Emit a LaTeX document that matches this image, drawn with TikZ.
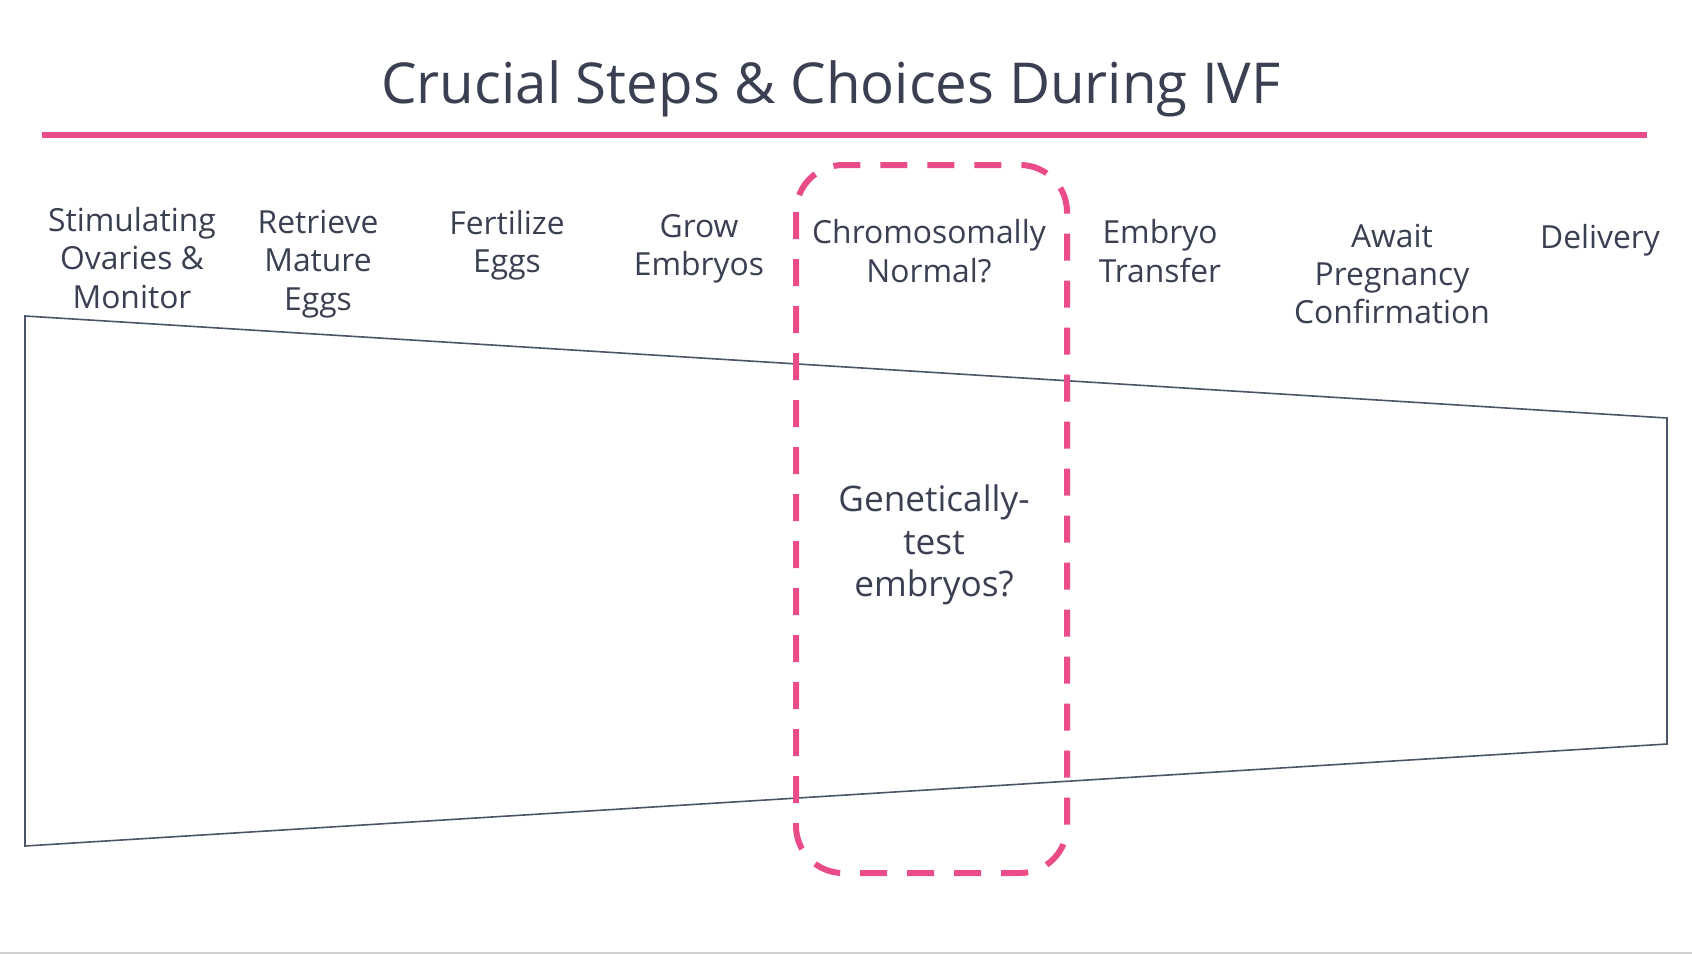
\documentclass[tikz,border=0pt]{standalone}
\usepackage{fontspec}
\setmainfont{Open Sans}
\usepackage{tikz}
\usetikzlibrary{positioning}
\definecolor{ink}{HTML}{3A3F51}
\definecolor{rose}{HTML}{EA4C89}
\definecolor{slate}{HTML}{4A5568}
\definecolor{rule}{HTML}{D0D0D0}

\begin{document}
\begin{tikzpicture}[x=1pt,y=-1pt]
\tikzstyle{every node}=[text=ink,inner sep=0pt]
\tikzstyle{steplabel}=[align=center,font=\fontsize{31.8}{38.4}\selectfont]
\tikzstyle{funnel}=[draw=slate,line width=1.6pt,line join=miter]
\tikzstyle{choicebox}=[draw=rose,line width=6pt,dash pattern=on 27pt off 20pt,rounded corners=47pt]
\useasboundingbox (0,0) rectangle (1692,954);
\fill[rule] (0,951.5) rectangle (1692,954);
% title and rule
\node[font=\fontsize{56.4}{68}\selectfont] (title) at (831,89) {Crucial Steps \& Choices During IVF};
\draw[rose,line width=5.5pt] (42,135) -- (1647,135);
% steps
\node[steplabel] (stim) at (132,258) {Stimulating\\Ovaries \&\\Monitor};
\node[steplabel] (retr) at (318,264) {Retrieve\\Mature\\Eggs};
\node[steplabel] (fert) at (507,245) {Fertilize\\Eggs};
\node[steplabel] (grow) at (699,249) {Grow\\Embryos};
\node[steplabel] (chrom) at (929,251) {Chromosomally\\Normal?};
\node[steplabel] (transf) at (1160,251) {Embryo\\Transfer};
\node[steplabel] (await) at (1392,274) {Await\\Pregnancy\\Confirmation};
\node[steplabel] (deliv) at (1600,240) {Delivery};
% funnel
\draw[funnel] (25,316) -- (1667,418) -- (1667,744) -- (25,846) -- cycle;
% choice
\draw[choicebox] (796,165) rectangle (1067,873);
\node[align=center,font=\fontsize{35.2}{42.3}\selectfont] (gtest) at (934,545) {Genetically-\\test\\embryos?};
\end{tikzpicture}
\end{document}
